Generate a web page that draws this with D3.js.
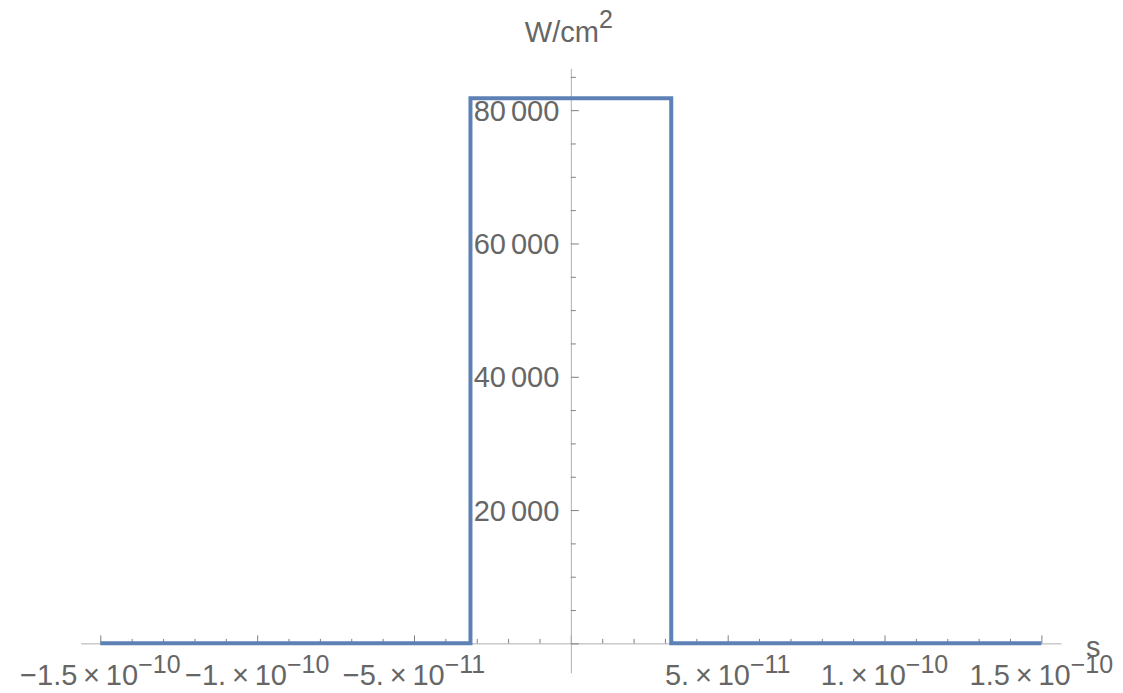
<!DOCTYPE html>
<html><head><meta charset="utf-8">
<script src="https://cdn.jsdelivr.net/npm/d3@7"></script>
<style>body{margin:0;background:#fff} svg{display:block}</style>
</head><body><svg id="c" width="1123" height="693"></svg>
<script>
// ---- data ----
const times = [-1.5e-10, -3.2e-11, -3.2e-11, 3.2e-11, 3.2e-11, 1.5e-10];
const intensity = [0, 0, 81800, 81800, 0, 0];
const xTickValues = [-1.5e-10, -1e-10, -5e-11, 5e-11, 1e-10, 1.5e-10];
const xTickMantissas = ["\u22121.5", "\u22121.", "\u22125.", "5.", "1.", "1.5"];
const xTickExponents = ["\u221210", "\u221210", "\u221211", "\u221211", "\u221210", "\u221210"];
const yTickValues = [20000, 40000, 60000, 80000];
const yTickLabels = ["20 000", "40 000", "60 000", "80 000"];
const xAxisLabel = "s";
const yAxisLabel = "W/cm";
const yAxisLabelSup = "2";

// ---- scales ----
const svg = d3.select("#c");
const font = "'Liberation Sans', Arial, sans-serif";
const textColor = "#666666";
const x = d3.scaleLinear().domain([-1.5625e-10, 1.5625e-10]).range([80.7, 1061]);
const y = d3.scaleLinear().domain([-4400, 86280]).range([672.7, 68.3]);
const x0 = x(0), y0 = y(0);

const xMinor = d3.range(-15, 16).filter(i => i % 5 !== 0).map(i => i * 1e-11);
const xMajor = d3.range(-15, 16, 5).map(i => i * 1e-11);
const yMinor = d3.range(1, 18).filter(i => i % 4 !== 0).map(i => i * 5000);
const yMajor = d3.range(0, 18, 4).map(i => i * 5000);

function styleAxis(g, showDomain) {
  g.selectAll(".tick line").attr("stroke", "#808080").attr("stroke-width", 1);
  g.select(".domain").attr("stroke", showDomain ? "#b0b0b0" : "none").attr("stroke-width", 1);
  g.selectAll(".tick text").remove();
}

// x axis
svg.append("g").attr("transform", `translate(0,${y0})`)
  .call(d3.axisTop(x).tickValues(xMinor).tickSize(4.5).tickSizeOuter(0).tickFormat(""))
  .call(g => styleAxis(g, true));
svg.append("g").attr("transform", `translate(0,${y0})`)
  .call(d3.axisTop(x).tickValues(xMajor).tickSize(8).tickSizeOuter(0).tickFormat(""))
  .call(g => styleAxis(g, false));

// y axis
svg.append("g").attr("transform", `translate(${x0},0)`)
  .call(d3.axisRight(y).tickValues(yMinor).tickSize(5).tickSizeOuter(0).tickFormat(""))
  .call(g => styleAxis(g, true));
svg.append("g").attr("transform", `translate(${x0},0)`)
  .call(d3.axisRight(y).tickValues(yMajor).tickSize(8).tickSizeOuter(0).tickFormat(""))
  .call(g => styleAxis(g, false));

// x tick labels
xTickValues.forEach((v, i) => {
  const t = svg.append("text")
    .attr("x", x(v)).attr("y", 685)
    .attr("text-anchor", "middle")
    .attr("font-family", font).attr("font-size", 29).attr("fill", textColor);
  t.append("tspan").text(xTickMantissas[i] + "\u2009\u00d7\u200910");
  t.append("tspan").attr("dy", -12).attr("font-size", 25).text(xTickExponents[i]);
});

// y tick labels
yTickValues.forEach((v, i) => {
  const parts = yTickLabels[i].split(" ");
  const t = svg.append("text")
    .attr("x", x0 - 11.5).attr("y", y(v) + 10.5)
    .attr("text-anchor", "end")
    .attr("font-family", font).attr("font-size", 29).attr("fill", textColor);
  t.append("tspan").text(parts[0]);
  t.append("tspan").attr("dx", 5).text(parts[1]);
});

// axis labels
svg.append("text").attr("x", 1086).attr("y", 657)
  .attr("font-family", font).attr("font-size", 29).attr("fill", textColor)
  .text(xAxisLabel);
const yl = svg.append("text").attr("x", x0 - 2).attr("y", 42)
  .attr("text-anchor", "middle")
  .attr("font-family", font).attr("font-size", 29).attr("fill", textColor);
yl.append("tspan").text(yAxisLabel);
yl.append("tspan").attr("dy", -14).attr("font-size", 25).text(yAxisLabelSup);

// data line
const pts = times.map((t, i) => [t, intensity[i]]);
svg.append("path")
  .datum(pts)
  .attr("fill", "none")
  .attr("stroke", "#5E81B5")
  .attr("stroke-width", 4)
  .attr("stroke-linejoin", "miter")
  .attr("d", d3.line().x(d => x(d[0])).y(d => y(d[1])));
</script>
</body></html>
